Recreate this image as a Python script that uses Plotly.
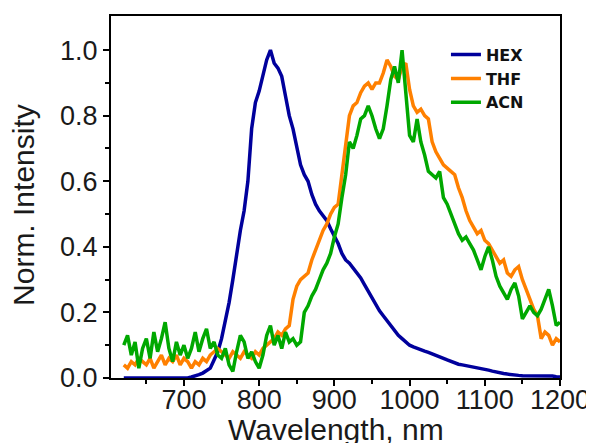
import plotly.graph_objects as go

wavelength = list(range(620, 1201, 5))

hex_vals = [0.0] * 17 + [
    0.0, 0.003, 0.006, 0.01, 0.015, 0.022, 0.03, 0.055, 0.08, 0.12,
    0.17, 0.23, 0.30, 0.38, 0.45, 0.51, 0.60, 0.76, 0.84, 0.875,
    0.92, 0.97, 1.0, 0.96, 0.945, 0.92, 0.86, 0.80, 0.76, 0.70,
    0.65, 0.62, 0.60, 0.56, 0.53, 0.51, 0.495, 0.48, 0.455, 0.435,
    0.41, 0.38, 0.36, 0.35, 0.335, 0.32, 0.305, 0.285, 0.265, 0.24,
    0.22, 0.205, 0.19, 0.175, 0.16, 0.145, 0.13, 0.12, 0.11, 0.10,
    0.095, 0.09, 0.085, 0.082, 0.078, 0.074, 0.07, 0.065, 0.06, 0.055,
    0.05, 0.045, 0.042, 0.04, 0.038, 0.036, 0.034, 0.032, 0.03, 0.027,
    0.024, 0.021, 0.018, 0.016, 0.014, 0.012, 0.01, 0.009, 0.008, 0.007,
    0.007, 0.006, 0.006, 0.005, 0.006, 0.005, 0.005, 0.006, 0.004, 0.003,
]

thf_vals = [
    0.04, 0.03, 0.05, 0.04, 0.06, 0.05, 0.04, 0.06, 0.03, 0.05,
    0.07, 0.04, 0.06, 0.05, 0.07, 0.04, 0.06, 0.05, 0.03, 0.05,
    0.04, 0.06, 0.05, 0.07, 0.08, 0.09, 0.08, 0.07, 0.06, 0.08,
    0.07, 0.06, 0.08, 0.07, 0.06, 0.08, 0.07, 0.09, 0.10, 0.11,
    0.12, 0.14, 0.13, 0.15, 0.16, 0.24, 0.28, 0.30, 0.31, 0.32,
    0.36, 0.39, 0.42, 0.45, 0.47, 0.50, 0.52, 0.53, 0.62, 0.72,
    0.80, 0.83, 0.84, 0.87, 0.89, 0.90, 0.88, 0.90, 0.90, 0.93,
    0.97, 0.95, 0.92, 0.91, 0.95, 0.96, 0.88, 0.83, 0.81, 0.82,
    0.80, 0.79, 0.72, 0.69, 0.67, 0.65, 0.64, 0.63, 0.62, 0.58,
    0.55, 0.51, 0.48, 0.46, 0.44, 0.45, 0.42, 0.41, 0.39, 0.37,
    0.35, 0.36, 0.32, 0.31, 0.33, 0.34, 0.30, 0.27, 0.24, 0.21,
    0.19, 0.12, 0.14, 0.13, 0.10, 0.12, 0.11,
]

acn_vals = [
    0.10, 0.13, 0.07, 0.11, 0.03, 0.09, 0.12, 0.06, 0.14, 0.08,
    0.12, 0.17, 0.09, 0.05, 0.11, 0.07, 0.10, 0.06, 0.09, 0.14,
    0.08, 0.12, 0.15, 0.09, 0.11, 0.07, 0.06, 0.09, 0.04, 0.02,
    0.08, 0.13, 0.11, 0.06, 0.08, 0.05, 0.03, 0.07, 0.13, 0.16,
    0.10, 0.13, 0.09, 0.14, 0.11, 0.12, 0.10, 0.11, 0.20, 0.22,
    0.25, 0.27, 0.30, 0.33, 0.35, 0.38, 0.43, 0.47, 0.55, 0.62,
    0.72, 0.70, 0.74, 0.79, 0.80, 0.83, 0.80, 0.76, 0.73, 0.76,
    0.83, 0.91, 0.95, 0.90, 1.0, 0.88, 0.74, 0.72, 0.79, 0.72,
    0.68, 0.63, 0.62, 0.61, 0.63, 0.55, 0.53, 0.50, 0.47, 0.44,
    0.42, 0.43, 0.41, 0.39, 0.36, 0.33, 0.37, 0.40, 0.36, 0.31,
    0.28, 0.26, 0.24, 0.27, 0.29, 0.25, 0.18, 0.20, 0.22, 0.20,
    0.19, 0.21, 0.24, 0.27, 0.22, 0.16, 0.17,
]

names = ["HEX", "THF", "ACN"]
colors = ["#00009C", "#FF8000", "#00A800"]
series = [hex_vals, thf_vals, acn_vals]

x_ticks = [700, 800, 900, 1000, 1100, 1200]
y_ticks = [0.0, 0.2, 0.4, 0.6, 0.8, 1.0]
x_title = "Wavelength, nm"
y_title = "Norm. Intensity"

fig = go.Figure()
for name, col, vals in zip(names, colors, series):
    fig.add_trace(go.Scatter(
        x=wavelength, y=vals, mode="lines", name=name,
        line=dict(color=col, width=3.5),
    ))

FONT = "Liberation Sans, Arial, sans-serif"
axis_font = dict(family=FONT, size=27, color="#1a1a1a")
title_font = dict(family=FONT, size=30, color="#1a1a1a")

# page body has an 8px margin, so the figure is 8px smaller than the window
fig.update_layout(
    width=586, height=435,
    margin=dict(l=103, r=34, t=8, b=65),
    plot_bgcolor="white", paper_bgcolor="white",
    showlegend=True,
    legend=dict(
        x=0.746, y=0.94, xanchor="left", yanchor="top",
        bgcolor="rgba(0,0,0,0)", borderwidth=0,
        font=dict(family="DejaVu Sans, sans-serif", size=16, color="#111111",
                  weight="bold"),
    ),
    annotations=[
        dict(text=x_title, xref="paper", yref="paper", x=0.5, y=0,
             xanchor="center", yanchor="middle", yshift=-51,
             showarrow=False, font=title_font),
        dict(text=y_title, xref="paper", yref="paper", x=0, y=0.478,
             xanchor="center", yanchor="middle", xshift=-87, textangle=-90,
             showarrow=False, font=title_font),
    ],
)

fig.update_xaxes(
    range=[603, 1200], automargin=False,
    tickvals=x_ticks, ticktext=[str(v) for v in x_ticks],
    ticks="outside", ticklen=6, tickwidth=2, tickcolor="black",
    ticklabelstandoff=-9,
    minor=dict(tickvals=[650, 750, 850, 950, 1050, 1150], ticks="outside",
               ticklen=4, tickwidth=2, tickcolor="black"),
    showline=True, linecolor="black", linewidth=2, mirror=True,
    showgrid=False, zeroline=False,
    tickfont=axis_font,
)
fig.update_yaxes(
    range=[0, 1.104], automargin=False,
    tickvals=y_ticks, ticktext=[f"{v:.1f}" for v in y_ticks],
    ticks="outside", ticklen=6, tickwidth=2, tickcolor="black",
    minor=dict(tickvals=[0.1, 0.3, 0.5, 0.7, 0.9], ticks="outside",
               ticklen=4, tickwidth=2, tickcolor="black"),
    showline=True, linecolor="black", linewidth=2, mirror=True,
    showgrid=False, zeroline=False,
    tickfont=axis_font,
)

fig.write_html("out.html")
